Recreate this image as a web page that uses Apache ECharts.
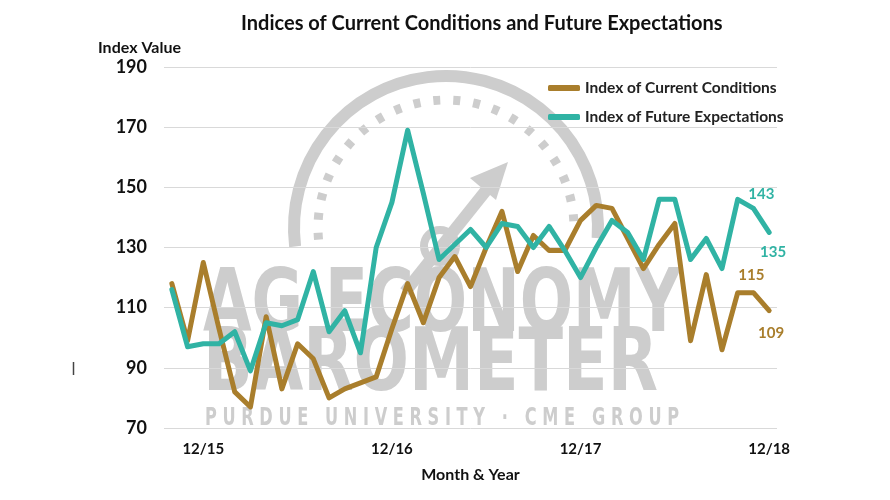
<!DOCTYPE html>
<html><head><meta charset="utf-8">
<script src="https://cdn.jsdelivr.net/npm/echarts@6/dist/echarts.min.js"></script>
<style>html,body{margin:0;padding:0;background:#fff}#c{width:890px;height:500px}</style>
</head><body><div id="c"></div>
<script>
// ---- data ----
const months = ['10/15','11/15','12/15','1/16','2/16','3/16','4/16','5/16','6/16','7/16','8/16','9/16','10/16','11/16','12/16',
  '1/17','2/17','3/17','4/17','5/17','6/17','7/17','8/17','9/17','10/17','11/17','12/17',
  '1/18','2/18','3/18','4/18','5/18','6/18','7/18','8/18','9/18','10/18','11/18','12/18'];
const currentConditions = [118,99,125,103,82,77,107,83,98,93,80,83,85,87,103,
  118,105,120,127,117,130,142,122,134,129,129,139,
  144,143,133,123,131,138,99,121,96,115,115,109];
const futureExpectations = [116,97,98,98,102,89,105,104,106,122,102,109,95,130,145,
  169,148,126,131,136,130,138,137,130,137,129,120,
  130,139,135,126,146,146,126,133,123,146,143,135];
const tickLabels = ['12/15','12/16','12/17','12/18'];
const yMin = 70, yMax = 190, yStep = 20;
const seriesNames = ['Index of Current Conditions','Index of Future Expectations'];
const labelledIdx = [37, 38];

// ---- styles ----
const BROWN = '#A97E2C', TEAL = '#30B3A4', WM = '#cdcdcd';
const FONT = 'Lato, "Open Sans", sans-serif';

function fitScale(text, font, width) {
  const ctx = document.createElement('canvas').getContext('2d');
  ctx.font = font;
  return width / ctx.measureText(text).width;
}
const wmFont = 'bold 88px "Liberation Sans Narrow", "DejaVu Sans Condensed", "Liberation Sans", sans-serif';
const wmFont2 = 'bold 24px "Liberation Sans Narrow", "DejaVu Sans Condensed", "Liberation Sans", sans-serif';
const wmText3 = 'P U R D U E   U N I V E R S I T Y   ·   C M E   G R O U P';

const labelCfg = {
  0: [{position:'top', offset:[-2,-3]}, {position:'bottom', offset:[2,8]}],
  1: [{position:'top', offset:[8,0]}, {position:'bottom', offset:[4,5]}]
};
function buildData(values, sIdx, color) {
  return values.map((v, i) => {
    const k = labelledIdx.indexOf(i);
    if (k < 0) return v;
    return {value: v, symbol: 'circle', symbolSize: 4,
      label: Object.assign({show: true, color: color, fontFamily: FONT, fontSize: 15, fontWeight: 'bold', formatter: '{c}'}, labelCfg[sIdx][k])};
  });
}

const chart = echarts.init(document.getElementById('c'), null, {renderer: 'canvas'});
chart.setOption({
  backgroundColor: '#fff',
  animation: false,
  title: [
    {text: 'Indices of Current Conditions and Future Expectations', left: 236, top: 9,
      textStyle: {fontFamily: FONT, fontSize: 20, fontWeight: 'bold', color: '#111'}},
    {text: 'Index Value', left: 93, top: 35,
      textStyle: {fontFamily: FONT, fontSize: 16, fontWeight: 'bold', color: '#111'}}
  ],
  legend: {
    orient: 'vertical', left: 543, top: 74, itemGap: 11,
    itemWidth: 32, itemHeight: 6, icon: 'roundRect',
    textStyle: {fontFamily: FONT, fontSize: 15.5, fontWeight: 'bold', color: '#222', lineHeight: 18},
    data: seriesNames
  },
  grid: {left: 164, right: 113, top: 67, bottom: 72, containLabel: false},
  xAxis: {
    type: 'category', data: months, boundaryGap: true,
    name: 'Month & Year', nameLocation: 'middle', nameGap: 39,
    nameTextStyle: {fontFamily: FONT, fontSize: 16, fontWeight: 'bold', color: '#111'},
    axisLine: {show: false}, axisTick: {show: false},
    axisLabel: {interval: (i, v) => tickLabels.includes(v), margin: 14,
      fontFamily: FONT, fontSize: 15, fontWeight: 'bold', color: '#111'},
    splitLine: {show: false}
  },
  yAxis: {
    type: 'value', min: yMin, max: yMax, interval: yStep,
    axisLine: {show: false}, axisTick: {show: false},
    axisLabel: {margin: 17, fontFamily: FONT, fontSize: 18, fontWeight: 'bold', color: '#111'},
    splitLine: {lineStyle: {color: '#d9d9d9', width: 1}}
  },
  graphic: [
    {type: 'arc', z: -10, silent: true, shape: {cx: 446, cy: 228, r: 152, startAngle: 3.02, endAngle: 6.35, clockwise: true},
      style: {stroke: WM, lineWidth: 12, fill: null}},
    {type: 'arc', z: -10, silent: true, shape: {cx: 446, cy: 228, r: 128, startAngle: 3.05, endAngle: 6.30, clockwise: true},
      style: {stroke: WM, lineWidth: 9, fill: null, lineDash: [7, 13]}},
    {type: 'line', z: -10, silent: true, shape: {x1: 405, y1: 292, x2: 492, y2: 183},
      style: {stroke: WM, lineWidth: 12}},
    {type: 'polygon', z: -10, silent: true, shape: {points: [[508, 162], [470, 178], [496, 200]]},
      style: {fill: WM}},
    {type: 'circle', z: -10, silent: true, shape: {cx: 440, cy: 246, r: 16},
      style: {stroke: WM, lineWidth: 8, fill: null}},
    {type: 'text', z: -9, silent: true, x: 203, y: 308, scaleX: fitScale('AG ECONOMY', wmFont, 478),
      style: {text: 'AG ECONOMY', font: wmFont, fill: WM, textAlign: 'left', textVerticalAlign: 'middle'}},
    {type: 'text', z: -9, silent: true, x: 203, y: 367, scaleX: fitScale('BAROMETER', wmFont, 455),
      style: {text: 'BAROMETER', font: wmFont, fill: WM, textAlign: 'left', textVerticalAlign: 'middle'}},
    {type: 'text', z: -9, silent: true, x: 205, y: 419, scaleX: fitScale(wmText3, wmFont2, 474),
      style: {text: wmText3, font: wmFont2, fill: WM, textAlign: 'left', textVerticalAlign: 'middle'}},
    {type: 'line', silent: true, shape: {x1: 73.5, y1: 362, x2: 73.5, y2: 375}, style: {stroke: '#444', lineWidth: 1.5}}
  ],
  series: [
    {name: seriesNames[0], type: 'line', data: buildData(currentConditions, 0, BROWN),
      symbol: 'none', showSymbol: true, color: BROWN, z: 3,
      itemStyle: {color: BROWN},
      lineStyle: {color: BROWN, width: 5, cap: 'round', join: 'round'}},
    {name: seriesNames[1], type: 'line', data: buildData(futureExpectations, 1, TEAL),
      symbol: 'none', showSymbol: true, color: TEAL, z: 4,
      itemStyle: {color: TEAL},
      lineStyle: {color: TEAL, width: 5, cap: 'round', join: 'round'}}
  ]
});
</script>
</body></html>
